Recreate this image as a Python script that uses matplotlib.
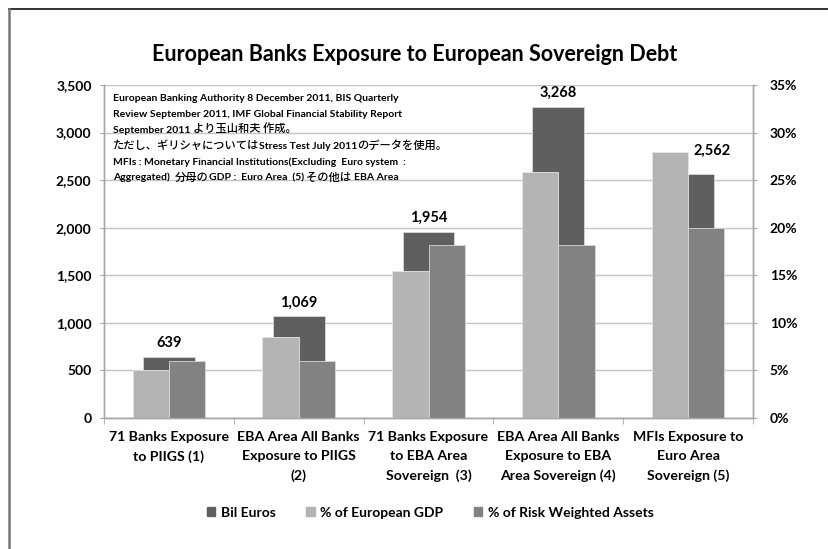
import matplotlib
matplotlib.use("Agg")
import matplotlib.pyplot as plt
from matplotlib.lines import Line2D
from matplotlib.patches import Patch
from matplotlib.ticker import FuncFormatter, MultipleLocator
import numpy as np

# --- data ---
categories = [
    "71 Banks Exposure\nto PIIGS (1)",
    "EBA Area All Banks\nExposure to PIIGS\n(2)",
    "71 Banks Exposure\nto EBA Area\nSovereign  (3)",
    "EBA Area All Banks\nExposure to EBA\nArea Sovereign (4)",
    "MFIs Exposure to\nEuro Area\nSovereign (5)",
]
bil_euros = [639, 1069, 1954, 3268, 2562]
pct_gdp = [5.0, 8.5, 15.5, 25.9, 28.0]
pct_rwa = [6.0, 6.0, 18.2, 18.2, 20.0]

title = "European Banks Exposure to European Sovereign Debt"
note_lines = [
    [("European Banking Authority 8 December 2011, BIS Quarterly", "en")],
    [("Review September 2011, IMF Global Financial Stability Report", "en")],
    [("September 2011 ", "en"), ("より玉山和夫 作成。", "jp")],
    [("ただし、ギリシャについては", "jp"), ("Stress Test July 2011", "en"),
     ("のデータを使用。", "jp")],
    [("MFIs : Monetary Financial Institutions(Excluding  Euro system  :", "en")],
    [("Aggregated)  ", "en"), ("分母の", "jp"), ("GDP :  Euro Area  (5) ", "en"),
     ("その他は ", "jp"), ("EBA Area", "en")],
]

DARK = "#5f5f5f"
LIGHT = "#b4b4b4"
MID = "#828282"
GRID = "#c4c4c4"
SPINE = "#a6a6a6"
FONT = ["Lato", "Noto Sans CJK JP", "DejaVu Sans"]
JPFONT = ["Noto Sans CJK JP", "DejaVu Sans"]

plt.rcParams["font.family"] = FONT
plt.rcParams["font.weight"] = "bold"

W, H = 829, 549
fig = plt.figure(figsize=(W / 100, H / 100), dpi=100)
ax = fig.add_axes([0.1255, 0.2386, 0.7828, 0.6066])
ax2 = ax.twinx()

x = np.arange(len(categories))
ax.bar(x, bil_euros, width=0.40, color=DARK, edgecolor="#d8d8d8", linewidth=0.6, zorder=2)
ax2.bar(x - 0.14, pct_gdp, width=0.28, color=LIGHT, edgecolor="#e4e4e4", linewidth=0.6, zorder=2)
ax2.bar(x + 0.14, pct_rwa, width=0.28, color=MID, edgecolor="#d8d8d8", linewidth=0.6, zorder=2)

ax.set_xlim(-0.5, len(categories) - 0.5)
ax.set_ylim(0, 3500)
ax2.set_ylim(0, 35)
ax.yaxis.set_major_locator(MultipleLocator(500))
ax2.yaxis.set_major_locator(MultipleLocator(5))
ax.yaxis.set_major_formatter(FuncFormatter(lambda v, p: f"{v:,.0f}"))
ax2.yaxis.set_major_formatter(FuncFormatter(lambda v, p: f"{v:.0f}%"))
ax.grid(True, axis="y", color=GRID, linewidth=1.0, zorder=0)
ax.set_axisbelow(True)

# category labels at centres, tick marks at the boundaries
ax.set_xticks(x)
ax.set_xticklabels(categories, fontsize=10.2, fontweight="bold", linespacing=1.7)
ax.tick_params(axis="x", which="major", length=0, pad=9)
ax.set_xticks(np.arange(len(categories) + 1) - 0.5, minor=True)
ax.tick_params(axis="x", which="minor", length=4, color=SPINE, direction="out")
ax.tick_params(axis="y", length=3, color=SPINE, pad=6, labelsize=10)
ax2.tick_params(axis="y", length=3, color=SPINE, pad=9, labelsize=10)
for lbl in ax.get_yticklabels() + ax2.get_yticklabels():
    lbl.set_fontweight("bold")

for a in (ax, ax2):
    a.spines["top"].set_visible(False)
    for s in ("left", "right", "bottom"):
        a.spines[s].set_color(SPINE)
        a.spines[s].set_linewidth(1.0)

# value labels over the Bil Euros bars (last one nudged aside in the original)
label_dx = [0, 0, 0, 0, 17]
label_dy = [5, 5, 5, 5, 12]
for xi, v, dx, dy in zip(x, bil_euros, label_dx, label_dy):
    ax2.annotate(f"{v:,}", xy=(xi, v / 100.0), xytext=(dx, dy), textcoords="offset points",
                 ha="center", va="bottom", fontsize=10.5, fontweight="bold")

# source note: mixed Latin / Japanese runs laid out on a shared baseline
renderer = fig.canvas.get_renderer()
x_start, y_first, step = 113, 101, 15.9  # pixels from top-left
for i, runs in enumerate(note_lines):
    px = x_start
    py = H - (y_first + i * step)
    for txt, kind in runs:
        if kind == "en":
            kw = dict(fontsize=7.5, family=FONT, fontweight="bold")
        else:
            kw = dict(fontsize=8.1, family=JPFONT, fontweight="medium")
        t = fig.text(px / W, py / H, txt, ha="left", va="baseline", **kw)
        px += t.get_window_extent(renderer).width

fig.text(0.5, 0.9, title, ha="center", va="center", fontsize=15.5, fontweight="bold")

handles = [Patch(color=DARK), Patch(color=LIGHT), Patch(color=MID)]
fig.legend(handles, ["Bil Euros", "% of European GDP", "% of Risk Weighted Assets"],
           loc="center", bbox_to_anchor=(0.519, 0.066), ncol=3, frameon=False,
           handlelength=0.6, handleheight=0.6, handletextpad=0.4, columnspacing=2.2,
           prop={"size": 10, "weight": "bold"})

# outer frame (top and left edges only, as in the scan)
fig.add_artist(Line2D([0.0105, 1.0], [0.983, 0.983], color="#333333", linewidth=1.4,
                      transform=fig.transFigure))
fig.add_artist(Line2D([0.0105, 0.0105], [0.0, 0.983], color="#777777", linewidth=1.8,
                      transform=fig.transFigure))

fig.savefig("out.png", dpi=100)
